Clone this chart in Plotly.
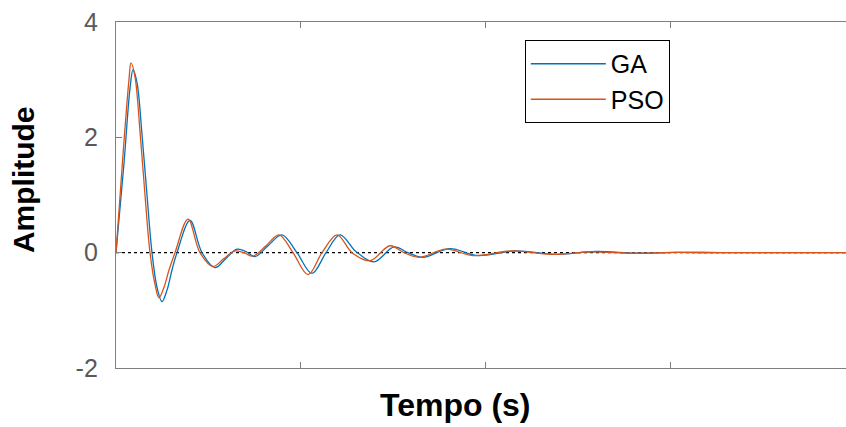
import plotly.graph_objects as go

# Time (axis units, tick spacing = 1) and amplitude
t_ga = [0, 0.0433, 0.0758, 0.0920, 0.1136, 0.1407, 0.1677, 0.1948, 0.2219, 0.2489,
        0.2760, 0.3030, 0.3301, 0.4004, 0.4654, 0.5357, 0.5952, 0.6548, 0.7035, 0.7522,
        0.8225, 0.8983, 0.9794, 1.0606, 1.1364, 1.2121, 1.2987, 1.3961, 1.5043, 1.5801,
        1.6613, 1.8074, 1.9535, 2.1645, 2.3810, 2.5974, 2.8139, 3.0303, 3.3009, 3.9502]
y_ga = [0, 1.55, 2.85, 3.17, 2.95, 2.05, 1.0, 0.0, -0.6, -0.85,
        -0.65, -0.3, 0.0, 0.56, 0.0, -0.26, -0.1, 0.06, 0.02, -0.07,
        0.12, 0.31, 0.0, -0.36, 0.0, 0.31, 0.02, -0.16, 0.10, 0.0,
        -0.08, 0.07, -0.05, 0.03, -0.03, 0.02, -0.01, 0.005, 0.0, 0.0]

t_pso = [0, 0.0379, 0.0703, 0.0812, 0.1028, 0.1299, 0.1569, 0.1840, 0.2110, 0.2327,
         0.2597, 0.2868, 0.3193, 0.3896, 0.4545, 0.5249, 0.5844, 0.6439, 0.6926, 0.7413,
         0.8117, 0.8820, 0.9578, 1.0390, 1.1147, 1.1959, 1.2771, 1.3745, 1.4827, 1.5584,
         1.6396, 1.7857, 1.9318, 2.1429, 2.3593, 2.5758, 2.7922, 3.0087, 3.2792, 3.9502]
y_pso = [0, 1.7, 3.0, 3.29, 3.05, 2.1, 1.0, 0.0, -0.55, -0.78,
         -0.6, -0.3, 0.0, 0.58, 0.0, -0.24, -0.1, 0.03, 0.0, -0.06,
         0.12, 0.31, 0.0, -0.38, 0.0, 0.31, 0.0, -0.14, 0.12, 0.0,
         -0.08, 0.06, -0.05, 0.03, -0.03, 0.015, -0.01, 0.005, 0.0, 0.0]

series_names = ["GA", "PSO"]
y_ticks = [-2, 0, 2, 4]
x_ticks = [1, 2, 3]

FONT = "Liberation Sans, Arial, sans-serif"

fig = go.Figure()
fig.add_trace(go.Scatter(x=t_ga, y=y_ga, mode="lines", name=series_names[0],
                         line=dict(color="#0072BD", width=1.3, shape="spline", smoothing=1.0)))
fig.add_trace(go.Scatter(x=t_pso, y=y_pso, mode="lines", name=series_names[1],
                         line=dict(color="#D95319", width=1.3, shape="spline", smoothing=1.0)))

# dotted zero reference line
fig.add_shape(type="line", xref="paper", yref="y", x0=0, x1=1, y0=0, y1=0,
              line=dict(color="black", width=1.3, dash="dot"), layer="below")

fig.update_layout(
    width=846, height=427,
    margin=dict(l=116, r=0, t=22, b=59),
    paper_bgcolor="white", plot_bgcolor="white",
    font=dict(family=FONT, color="#262626"),
    showlegend=True,
    legend=dict(x=0.560, y=0.948, xanchor="left", yanchor="top",
                bgcolor="white", bordercolor="black", borderwidth=1,
                font=dict(family=FONT, size=25, color="black"),
                tracegroupgap=0, itemwidth=75),
    xaxis=dict(range=[0, 3.9502], tickvals=x_ticks, showticklabels=False,
               ticks="inside", ticklen=6, tickcolor="#7f7f7f",
               showline=True, linecolor="#7f7f7f", linewidth=1.3, mirror="ticks",
               showgrid=False, zeroline=False),
    yaxis=dict(range=[-2, 4], tickvals=y_ticks, ticktext=[str(v) for v in y_ticks],
               ticks="inside", ticklen=6, tickcolor="#7f7f7f",
               showline=True, linecolor="#7f7f7f", linewidth=1.3, mirror=False,
               showgrid=False, zeroline=False, ticklabelstandoff=12,
               tickfont=dict(family=FONT, size=25, color="#595959")),
    annotations=[
        dict(text="<b>Amplitude</b>", xref="paper", yref="paper", x=0, y=0.543,
             xshift=-93, xanchor="center", yanchor="middle", textangle=-90,
             showarrow=False, font=dict(family=FONT, size=30, color="black")),
        dict(text="<b>Tempo (s)</b>", xref="paper", yref="paper", x=0.4644, y=0,
             yshift=-37, xanchor="center", yanchor="middle",
             showarrow=False, font=dict(family=FONT, size=32, color="black")),
    ],
)

fig.write_html("out.html", config={"displayModeBar": False},
               post_script="document.body.style.margin='0';document.body.style.overflow='hidden';")
